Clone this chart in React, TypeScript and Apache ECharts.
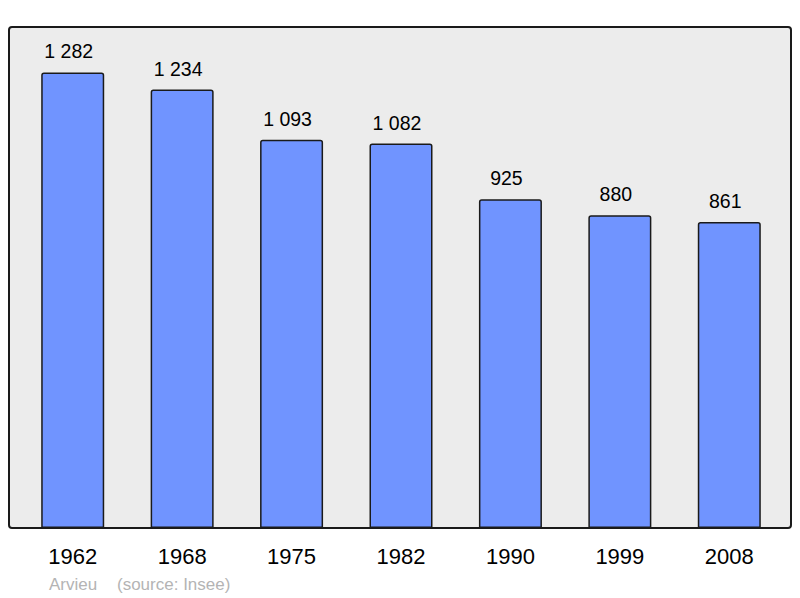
import React, { useEffect, useRef } from "react";
import * as echarts from "echarts";

const years = ["1962", "1968", "1975", "1982", "1990", "1999", "2008"];
const population = [1282, 1234, 1093, 1082, 925, 880, 861];
const footerName = "Arvieu";
const footerSource = "(source: Insee)";

function fmt(v: number): string {
  const s = String(v);
  return s.length > 3 ? s.slice(0, s.length - 3) + " " + s.slice(-3) : s;
}

export default function App() {
  const ref = useRef<HTMLDivElement>(null);
  useEffect(() => {
    document.body.style.margin = "0";
    const chart = echarts.init(ref.current!, undefined, { renderer: "svg" });
    chart.setOption({
      animation: false,
      textStyle: { fontFamily: "Liberation Sans, Arial, sans-serif" },
      grid: { left: 18, right: 16, top: 27, bottom: 70, containLabel: false },
      graphic: [
        {
          type: "rect",
          z: -10,
          shape: { x: 9, y: 27, width: 782, height: 501, r: 3 },
          style: { fill: "#ececec", stroke: "#1a1a1a", lineWidth: 2 },
        },
        {
          type: "text",
          left: 49,
          top: 576,
          style: { text: footerName, fill: "#b4b4b4", fontSize: 17, fontFamily: "Liberation Sans, Arial, sans-serif" },
        },
        {
          type: "text",
          left: 117,
          top: 576,
          style: { text: footerSource, fill: "#b4b4b4", fontSize: 17, fontFamily: "Liberation Sans, Arial, sans-serif" },
        },
      ],
      xAxis: {
        type: "category",
        data: years,
        axisLine: { show: false },
        axisTick: { show: false },
        axisLabel: { color: "#000", fontSize: 22, margin: 17 },
      },
      yAxis: {
        type: "value",
        min: 0,
        max: 1410,
        show: false,
        splitLine: { show: false },
      },
      series: [
        {
          type: "bar",
          data: population,
          barWidth: 63,
          itemStyle: {
            color: "#7094ff",
            borderColor: "#1a1a1a",
            borderWidth: 1.5,
            borderRadius: [2, 2, 0, 0],
          },
          label: {
            show: true,
            position: "top",
            distance: 11,
            offset: [-4, 0],
            color: "#000",
            fontSize: 19.5,
            formatter: (p: any) => fmt(p.value),
          },
        },
      ],
    });
    return () => chart.dispose();
  }, []);
  return <div ref={ref} style={{ width: 800, height: 598 }} />;
}
